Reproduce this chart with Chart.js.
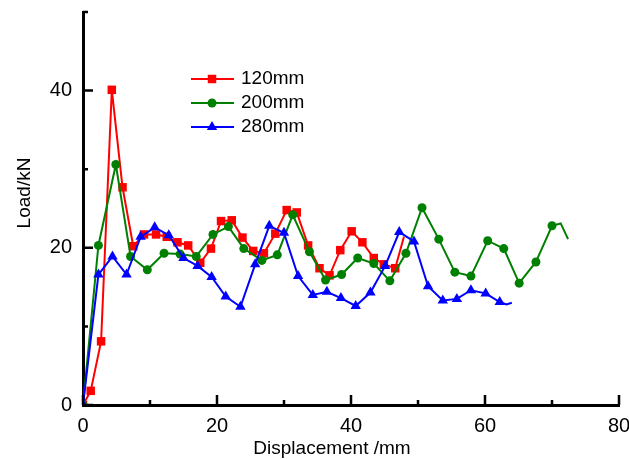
<!DOCTYPE html>
<html>
<head>
<meta charset="utf-8">
<script src="https://cdn.jsdelivr.net/npm/chart.js@4.4.0/dist/chart.umd.min.js"></script>
<style>
  html, body { margin: 0; padding: 0; background: #fff; }
  #wrap { width: 629px; height: 459px; }
</style>
</head>
<body>
<div id="wrap"><canvas id="loadChart" width="629" height="459"></canvas></div>
<script>
// Load-displacement readings for the three spacings
const disp120 = [0, 1.15, 2.7, 4.3, 5.9, 7.5, 9.1, 10.9, 12.5, 14.1, 15.7, 17.5, 19.1, 20.6, 22.2, 23.8, 25.4, 27.0, 28.7, 30.4, 31.9, 33.6, 35.3, 36.8, 38.4, 40.1, 41.7, 43.4, 44.9, 46.6, 47.9];
const load120 = [0, 1.8, 8.1, 40.1, 27.7, 20.2, 21.7, 21.7, 21.4, 20.7, 20.3, 18.1, 19.9, 23.4, 23.5, 21.3, 19.6, 19.3, 21.8, 24.8, 24.5, 20.3, 17.4, 16.5, 19.7, 22.1, 20.7, 18.7, 17.9, 17.4, 21.4];

const disp200 = [0, 2.3, 4.9, 7.1, 9.6, 12.1, 14.5, 16.9, 19.4, 21.7, 24.0, 26.7, 29.0, 31.3, 33.8, 36.2, 38.6, 41.0, 43.4, 45.8, 48.2, 50.6, 53.1, 55.5, 57.9, 60.4, 62.8, 65.1, 67.6, 70.0, 71.3, 72.4];
const load200 = [0, 20.3, 30.6, 18.9, 17.2, 19.3, 19.2, 18.9, 21.7, 22.7, 19.9, 18.4, 19.1, 24.2, 19.5, 15.9, 16.6, 18.7, 18.0, 15.8, 19.3, 25.1, 21.1, 16.9, 16.4, 20.9, 19.9, 15.5, 18.2, 22.8, 23.1, 21.1];

const disp280 = [0, 2.3, 4.4, 6.5, 8.6, 10.7, 12.8, 15.0, 17.1, 19.2, 21.3, 23.5, 25.7, 27.8, 30.0, 32.1, 34.3, 36.4, 38.5, 40.7, 42.9, 45.1, 47.2, 49.4, 51.5, 53.7, 55.8, 57.9, 60.1, 62.2, 63.2, 64.0];
const load280 = [0, 16.6, 18.9, 16.6, 21.4, 22.6, 21.6, 18.7, 17.7, 16.3, 13.8, 12.5, 17.9, 22.8, 21.9, 16.4, 14.0, 14.4, 13.6, 12.6, 14.3, 17.7, 22.0, 20.8, 15.1, 13.3, 13.5, 14.6, 14.2, 13.1, 12.8, 13.0];

const seriesLabels = ['120mm', '200mm', '280mm'];
// trailing readings drawn as line only
const unmarkedTail = [1, 2, 2];

const xTicks = [0, 20, 40, 60, 80];
const yTicks = [0, 20, 40];

const FONT = "'Liberation Sans', Arial, sans-serif";

document.addEventListener('DOMContentLoaded', function() {
    const ctx = document.getElementById('loadChart');

    function toPoints(xs, ys) {
        return xs.map((v, i) => ({ x: v, y: ys[i] }));
    }

    function makeSet(idx, xs, ys, color, style, radius, order) {
        const marked = xs.length - unmarkedTail[idx];
        return {
            label: seriesLabels[idx],
            data: toPoints(xs, ys),
            borderColor: color,
            backgroundColor: color,
            borderWidth: 2,
            pointStyle: style,
            pointRadius: c => (c.dataIndex < marked ? radius : 0),
            pointBorderWidth: 0,
            tension: 0,
            order: order
        };
    }

    // inward tick marks, long on labelled values and short in between
    const axisTicks = {
        id: 'axisTicks',
        afterDatasetsDraw(chart) {
            const c = chart.ctx;
            const { x, y } = chart.scales;
            c.save();
            c.strokeStyle = '#000';
            c.lineWidth = 2.5;
            c.beginPath();
            x.ticks.forEach(t => {
                const px = x.getPixelForValue(t.value);
                const len = xTicks.includes(t.value) ? 10 : 5;
                c.moveTo(px, x.top);
                c.lineTo(px, x.top - len);
            });
            y.ticks.forEach(t => {
                const py = y.getPixelForValue(t.value);
                const len = yTicks.includes(t.value) ? 10 : 5;
                c.moveTo(y.right, py);
                c.lineTo(y.right + len, py);
            });
            c.stroke();
            c.restore();
        }
    };

    // legend block and axis titles
    const annotations = {
        id: 'annotations',
        afterDraw(chart) {
            const c = chart.ctx;
            c.save();
            c.font = '19px ' + FONT;
            c.fillStyle = '#000';
            c.textBaseline = 'middle';

            const rows = [79, 103, 127];
            chart.data.datasets.forEach((ds, i) => {
                const ry = rows[i];
                c.strokeStyle = ds.borderColor;
                c.lineWidth = 2;
                c.beginPath();
                c.moveTo(191, ry);
                c.lineTo(234, ry);
                c.stroke();
                c.fillStyle = ds.backgroundColor;
                Chart.helpers.drawPoint(c, {
                    pointStyle: ds.pointStyle,
                    radius: i === 1 ? 4.5 : 6,
                    rotation: 0,
                    borderWidth: 0
                }, 212, ry);
                c.fillStyle = '#000';
                c.textAlign = 'left';
                c.fillText(ds.label, 241, ry);
            });

            c.textAlign = 'center';
            c.fillText('Displacement /mm', 332, 449);
            c.translate(24.5, 193);
            c.rotate(-Math.PI / 2);
            c.fillText('Load/kN', 0, 0);
            c.restore();
        }
    };

    new Chart(ctx, {
        type: 'line',
        data: {
            datasets: [
                makeSet(0, disp120, load120, '#ff0000', 'rect', 6, 3),
                makeSet(1, disp200, load200, '#008000', 'circle', 4.5, 2),
                makeSet(2, disp280, load280, '#0000ff', 'triangle', 6, 1)
            ]
        },
        options: {
            responsive: false,
            animation: false,
            devicePixelRatio: 1,
            layout: { padding: { top: 12, right: 10, left: 0, bottom: 0 } },
            plugins: {
                legend: { display: false },
                tooltip: { enabled: false }
            },
            scales: {
                x: {
                    type: 'linear',
                    min: 0,
                    max: 80,
                    grid: { display: false, drawTicks: false },
                    border: { display: true, color: '#000', width: 3 },
                    ticks: {
                        stepSize: 10,
                        autoSkip: false,
                        maxRotation: 0,
                        padding: 9,
                        color: '#000',
                        font: { family: FONT, size: 20 },
                        callback: v => (xTicks.includes(v) ? v : '')
                    },
                    afterFit: s => {
                        s.height = 54;
                        s.paddingLeft = 0;
                        s.paddingRight = 0;
                    }
                },
                y: {
                    type: 'linear',
                    min: 0,
                    max: 50,
                    grid: { display: false, drawTicks: false },
                    border: { display: true, color: '#000', width: 3 },
                    ticks: {
                        stepSize: 10,
                        autoSkip: false,
                        padding: 11,
                        color: '#000',
                        font: { family: FONT, size: 20 },
                        callback: v => (yTicks.includes(v) ? v : '')
                    },
                    afterFit: s => {
                        s.width = 83;
                        s.paddingTop = 0;
                        s.paddingBottom = 0;
                    }
                }
            }
        },
        plugins: [axisTicks, annotations]
    });
});
</script>
</body>
</html>
